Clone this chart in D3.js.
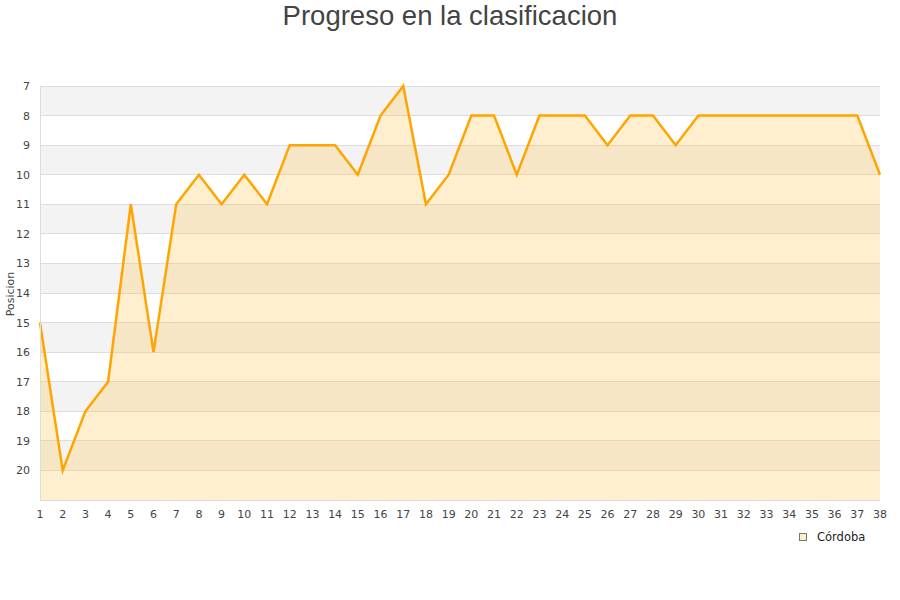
<!DOCTYPE html>
<html><head><meta charset="utf-8">
<script src="https://cdn.jsdelivr.net/npm/d3@7"></script>
<style>body{margin:0;background:#fff}svg{display:block}</style>
</head><body>
<svg id="c" width="900" height="600"></svg>
<script>
const jornadas = d3.range(1, 39);
const posiciones = [15,20,18,17,11,16,11,10,11,10,11,9,9,9,10,8,7,11,10,8,8,10,8,8,8,9,8,8,9,8,8,8,8,8,8,8,8,10];
const yTicks = d3.range(7, 21);
const serieNombre = "Córdoba";
const titulo = "Progreso en la clasificacion";
const ejeY = "Posicion";

const svg = d3.select("#c");
const L = 40, R = 880, T = 86, B = 500;
const x = d3.scaleLinear().domain([1, 38]).range([L, R]);
const y = d3.scaleLinear().domain([7, 21]).range([T, B]);

// bands
const bands = d3.range(7, 21);
svg.append("g").selectAll("rect").data(bands).join("rect")
  .attr("x", L).attr("width", R - L)
  .attr("y", d => y(d)).attr("height", d => y(d + 1) - y(d))
  .attr("fill", d => d % 2 === 1 ? "#f3f3f3" : "#ffffff");

// grid
svg.append("g").selectAll("line").data(d3.range(7, 22)).join("line")
  .attr("x1", L).attr("x2", R).attr("y1", d => y(d)).attr("y2", d => y(d))
  .attr("stroke", "#dddddd").attr("stroke-width", 1).attr("shape-rendering", "crispEdges");

const data = jornadas.map((j, i) => ({j, p: posiciones[i]}));
const area = d3.area().x(d => x(d.j)).y0(y(21)).y1(d => y(d.p));
svg.append("path").datum(data).attr("d", area)
  .attr("fill", "rgba(255,190,60,0.25)");
const line = d3.line().x(d => x(d.j)).y(d => y(d.p));
svg.append("path").datum(data).attr("d", line)
  .attr("fill", "none").attr("stroke", "#ffa500").attr("stroke-width", 2.5)
  .attr("stroke-linejoin", "miter");

// axes borders
svg.append("line").attr("x1", L).attr("x2", L).attr("y1", T).attr("y2", B)
  .attr("stroke", "#dddddd").attr("shape-rendering", "crispEdges");
svg.append("line").attr("x1", L).attr("x2", R).attr("y1", B).attr("y2", B)
  .attr("stroke", "#dddddd").attr("shape-rendering", "crispEdges");

// y labels
svg.append("g").selectAll("text").data(yTicks).join("text")
  .attr("x", 30).attr("y", d => y(d) + 4).attr("text-anchor", "end")
  .attr("font-family", "DejaVu Sans").attr("font-size", 11).attr("fill", "#444")
  .text(d => d);

// x labels
svg.append("g").selectAll("text").data(jornadas).join("text")
  .attr("x", d => x(d)).attr("y", 518).attr("text-anchor", "middle")
  .attr("font-family", "DejaVu Sans").attr("font-size", 11).attr("fill", "#444")
  .text(d => d);

// title
svg.append("text").attr("x", 450).attr("y", 25).attr("text-anchor", "middle")
  .attr("font-family", "Liberation Sans, Arial").attr("font-size", 27.5).attr("fill", "#444")
  .text(titulo);

// y title
svg.append("text").attr("transform", "translate(14,294) rotate(-90)")
  .attr("text-anchor", "middle").attr("font-family", "DejaVu Sans")
  .attr("font-size", 11).attr("fill", "#444").text(ejeY);

// legend
svg.append("rect").attr("x", 799.5).attr("y", 533.5).attr("width", 7).attr("height", 7)
  .attr("fill", "#ffeecc").attr("stroke", "#777").attr("stroke-width", 1);
svg.append("text").attr("x", 817).attr("y", 541)
  .attr("font-family", "DejaVu Sans").attr("font-size", 11.5).attr("fill", "#222")
  .text(serieNombre);
</script>
</body></html>
